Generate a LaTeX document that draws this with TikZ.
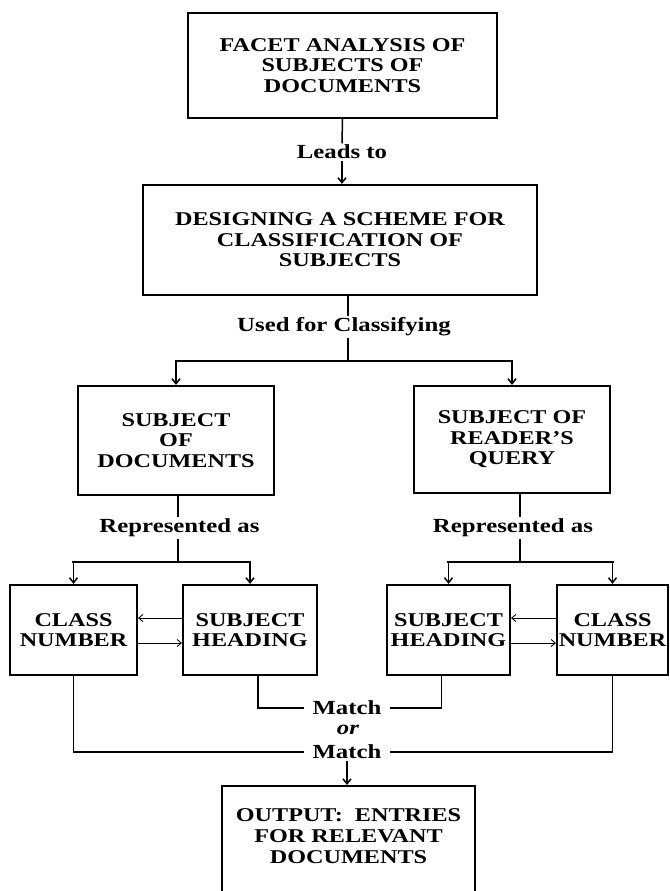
\documentclass[tikz,border=0pt]{standalone}
\usepackage{fontspec}
\setmainfont{Liberation Serif}[FakeStretch=1.24]
\usetikzlibrary{arrows.meta}

\begin{document}
\begin{tikzpicture}[
    x=1bp, y=-1bp,
    box/.style={rectangle, draw, line width=2.2bp, inner sep=0pt, align=center,
        font=\fontsize{19.5bp}{20.5bp}\selectfont\bfseries},
    lbl/.style={inner sep=1.5bp, font=\fontsize{20bp}{22bp}\selectfont\bfseries},
    conn/.style={line width=1.5bp},
    bar/.style={line width=2.4bp, line cap=rect},
    arr/.style={conn, -{Straight Barb[length=5bp, width=8bp]}},
    link/.style={line width=0.9bp, -{Straight Barb[length=4bp, width=7bp]}}
]
    \useasboundingbox (0,0) rectangle (670,891);

    \node[box, minimum width=309bp, minimum height=105bp] (facet) at (342.5,65.5) {FACET ANALYSIS OF\\SUBJECTS OF\\DOCUMENTS};
    \node[lbl] (leads) at (342,152) {Leads to};
    \node[box, minimum width=394bp, minimum height=110bp] (design) at (340,240) {DESIGNING A SCHEME FOR\\CLASSIFICATION OF\\SUBJECTS};
    \node[lbl] (used) at (344,327) {Used for Classifying};
    \coordinate (fork1) at (348,361);

    \node[box, minimum width=196bp, minimum height=109bp] (subjdoc) at (176,440.5) {SUBJECT\\OF\\DOCUMENTS};
    \node[box, minimum width=196bp, minimum height=107bp] (subjq) at (512,439.5) {SUBJECT OF\\READER'S\\QUERY};
    \node[lbl] (repl) at (179.5,528) {Represented as};
    \node[lbl] (repr) at (513,528) {Represented as};
    \coordinate (fork2) at (178,562);
    \coordinate (fork3) at (520,562);

    \node[box, minimum width=127bp, minimum height=90bp] (cnl) at (73.5,630) {CLASS\\NUMBER};
    \node[box, minimum width=134bp, minimum height=90bp] (shl) at (250,630) {SUBJECT\\HEADING};
    \node[box, minimum width=123bp, minimum height=90bp] (shr) at (448.5,630) {SUBJECT\\HEADING};
    \node[box, minimum width=111bp, minimum height=90bp] (cnr) at (612.5,630) {CLASS\\NUMBER};

    \node[lbl, inner xsep=8bp] (match1) at (347,708) {Match};
    \node[lbl, font=\fontsize{20bp}{22bp}\selectfont\bfseries\itshape] (or) at (348,730) {or};
    \node[lbl, inner xsep=8bp] (match2) at (347,752) {Match};
    \node[box, minimum width=253bp, minimum height=112bp, anchor=north] (out) at (348.5,785) {};
    \node[lbl, align=center, font=\fontsize{19.5bp}{21bp}\selectfont\bfseries] (outtxt) at (348.5,836) {OUTPUT:\ \ ENTRIES\\FOR RELEVANT\\DOCUMENTS};

    \draw[conn] (facet.south) -- (leads.north);
    \draw[arr] (leads.south) -- (leads.south |- design.north);
    \draw[conn] (design.south -| fork1) -- (used.north -| fork1);
    \draw[conn] (used.south -| fork1) -- (fork1);
    \draw[bar] (fork1 -| subjdoc.north) -- (fork1 -| subjq.north);
    \draw[arr] (fork1 -| subjdoc.north) -- (subjdoc.north);
    \draw[arr] (fork1 -| subjq.north) -- (subjq.north);

    \draw[conn] (subjdoc.south -| fork2) -- (repl.north -| fork2);
    \draw[conn] (repl.south -| fork2) -- (fork2);
    \draw[bar] (fork2 -| cnl.north) -- (fork2 -| shl.north);
    \draw[arr] (fork2 -| cnl.north) -- (cnl.north);
    \draw[arr] (fork2 -| shl.north) -- (shl.north);

    \draw[conn] (subjq.south -| fork3) -- (repr.north -| fork3);
    \draw[conn] (repr.south -| fork3) -- (fork3);
    \draw[bar] (fork3 -| shr.north) -- (fork3 -| cnr.north);
    \draw[arr] (fork3 -| shr.north) -- (shr.north);
    \draw[arr] (fork3 -| cnr.north) -- (cnr.north);

    \draw[link] ([yshift=12bp]shl.west) -- ([yshift=12bp]cnl.east);
    \draw[link] ([yshift=-13bp]cnl.east) -- ([yshift=-13bp]shl.west);
    \draw[link] ([yshift=12bp]cnr.west) -- ([yshift=12bp]shr.east);
    \draw[link] ([yshift=-13bp]shr.east) -- ([yshift=-13bp]cnr.west);

    \draw[conn] (cnl.south) |- (match2.west);
    \draw[conn] ([xshift=8bp]shl.south) |- (match1.west);
    \draw[conn] ([xshift=-7bp]shr.south) |- (match1.east);
    \draw[conn] (cnr.south) |- (match2.east);
    \draw[arr] (match2.south) -- (match2.south |- out.north);
\end{tikzpicture}
\end{document}
